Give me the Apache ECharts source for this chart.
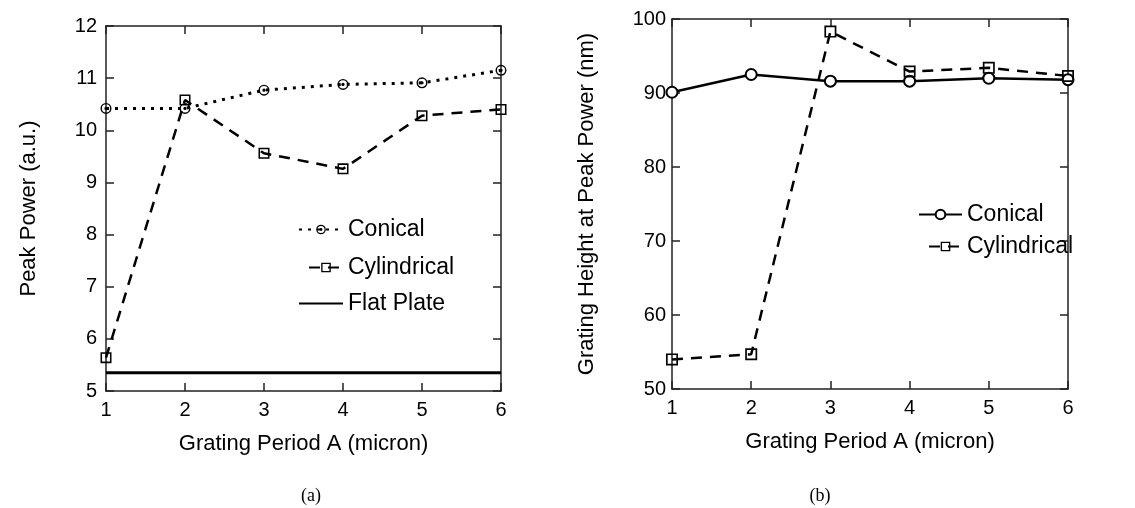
<!DOCTYPE html>
<html>
<head>
<meta charset="utf-8">
<script src="https://cdn.jsdelivr.net/npm/echarts@6/dist/echarts.min.js"></script>
<style>
  html, body { margin: 0; padding: 0; background: #fff; }
  #chart { width: 1135px; height: 508px; }
</style>
</head>
<body>
<div id="chart"></div>
<script>
// grating period (x), shared by both panels
const periods = [1, 2, 3, 4, 5, 6];
const xTicks = ['1', '2', '3', '4', '5', '6'];

// (a) peak power
const conicalPower = [10.42, 10.42, 10.77, 10.88, 10.91, 11.15];
const cylindricalPower = [5.64, 10.58, 9.56, 9.26, 10.28, 10.40];
const flatPlatePower = [5.35, 5.35, 5.35, 5.35, 5.35, 5.35];

// (b) grating height at peak power
const conicalHeight = [90.1, 92.5, 91.6, 91.6, 92.0, 91.8];
const cylindricalHeight = [54.0, 54.7, 98.3, 92.9, 93.4, 92.3];

const FONT = 'Liberation Sans';
const pairs = ys => periods.map((x, i) => [x, ys[i]]);

// hollow square (line shows through), ring + dot
const squareSym = 'path://M0,0H10V10H0Z M1.4,1.4V8.6H8.6V1.4Z';
const targetSym = 'path://M0,5A5,5 0 1,0 10,5A5,5 0 1,0 0,5Z M1.3,5A3.7,3.7 0 1,1 8.7,5A3.7,3.7 0 1,1 1.3,5Z M3.5,5A1.5,1.5 0 1,0 6.5,5A1.5,1.5 0 1,0 3.5,5Z';

function xAxisFor(grid) {
  return [
    {
      type: 'value', gridIndex: grid, min: 1, max: 6, interval: 1,
      name: 'Grating Period A (micron)', nameLocation: 'middle', nameGap: 42,
      nameTextStyle: { fontFamily: FONT, fontSize: 22, color: '#000' },
      axisLine: { lineStyle: { color: '#222', width: 1.5 } },
      axisTick: { inside: true, length: 8, lineStyle: { color: '#222', width: 1.5 } },
      axisLabel: { fontFamily: FONT, fontSize: 20, color: '#000', margin: 9,
        formatter: v => xTicks[periods.indexOf(v)] },
      splitLine: { show: false }
    },
    {
      type: 'value', gridIndex: grid, position: 'top', min: 1, max: 6, interval: 1,
      axisLine: { lineStyle: { color: '#222', width: 1.5 } },
      axisTick: { inside: true, length: 8, lineStyle: { color: '#222', width: 1.5 } },
      axisLabel: { show: false },
      splitLine: { show: false }
    }
  ];
}

function yAxisFor(grid, min, max, interval, name, gap, margin) {
  return [
    {
      type: 'value', gridIndex: grid, min: min, max: max, interval: interval,
      name: name, nameLocation: 'middle', nameGap: gap,
      nameTextStyle: { fontFamily: FONT, fontSize: 22, color: '#000' },
      axisLine: { show: true, lineStyle: { color: '#222', width: 1.5 } },
      axisTick: { show: true, inside: true, length: 8, lineStyle: { color: '#222', width: 1.5 } },
      axisLabel: { fontFamily: FONT, fontSize: 20, color: '#000', margin: margin },
      splitLine: { show: false }
    },
    {
      type: 'value', gridIndex: grid, position: 'right', min: min, max: max, interval: interval,
      axisLine: { show: true, lineStyle: { color: '#222', width: 1.5 } },
      axisTick: { show: true, inside: true, length: 8, lineStyle: { color: '#222', width: 1.5 } },
      axisLabel: { show: false },
      splitLine: { show: false }
    }
  ];
}

function legendAt(name, left, top, width, noSymbol) {
  const lg = {
    data: [name], left: left, top: top, orient: 'horizontal',
    itemWidth: width, itemHeight: 12, itemGap: 0, padding: 0,
    selectedMode: false,
    textStyle: { fontFamily: FONT, fontSize: 23, color: '#000' },
    formatter: n => n.replace(' (b)', '')
  };
  if (noSymbol) lg.itemStyle = { opacity: 0 };
  return lg;
}

const chart = echarts.init(document.getElementById('chart'), null, { renderer: 'canvas' });

chart.setOption({
  animation: false,
  backgroundColor: '#fff',
  grid: [
    { left: 106, top: 26, width: 395, height: 365 },
    { left: 672, top: 19, width: 396, height: 370 }
  ],
  title: [
    { text: '(a)', left: 306, top: 482, textAlign: 'center',
      textStyle: { fontFamily: 'Liberation Serif', fontSize: 18, fontWeight: 'normal', color: '#000' } },
    { text: '(b)', left: 815, top: 482, textAlign: 'center',
      textStyle: { fontFamily: 'Liberation Serif', fontSize: 18, fontWeight: 'normal', color: '#000' } }
  ],
  legend: [
    legendAt('Conical', 298, 218, 44),
    legendAt('Cylindrical', 308, 256, 34),
    legendAt('Flat Plate', 298, 292, 44, true),
    legendAt('Conical (b)', 918, 203, 43),
    legendAt('Cylindrical (b)', 928, 235, 33)
  ],
  xAxis: [...xAxisFor(0), ...xAxisFor(1)],
  yAxis: [
    ...yAxisFor(0, 5, 12, 1, 'Peak Power (a.u.)', 66, 9),
    ...yAxisFor(1, 50, 100, 10, 'Grating Height at Peak Power (nm)', 74, 6)
  ],
  series: [
    {
      name: 'Conical', type: 'line', xAxisIndex: 0, yAxisIndex: 0,
      data: pairs(conicalPower), symbol: targetSym, symbolSize: 11,
      itemStyle: { color: '#000' },
      lineStyle: { color: '#000', width: 3, type: [3, 6] }
    },
    {
      name: 'Cylindrical', type: 'line', xAxisIndex: 0, yAxisIndex: 0,
      data: pairs(cylindricalPower), symbol: squareSym, symbolSize: 11,
      itemStyle: { color: '#000' },
      lineStyle: { color: '#000', width: 2.5, type: [11, 8] }
    },
    {
      name: 'Flat Plate', type: 'line', xAxisIndex: 0, yAxisIndex: 0,
      data: pairs(flatPlatePower), symbol: 'none',
      itemStyle: { color: '#000' },
      lineStyle: { color: '#000', width: 3 }
    },
    {
      name: 'Conical (b)', type: 'line', xAxisIndex: 2, yAxisIndex: 2,
      data: pairs(conicalHeight), symbol: 'emptyCircle', symbolSize: 11,
      itemStyle: { color: '#000', borderWidth: 1.3 },
      lineStyle: { color: '#000', width: 2.5 }
    },
    {
      name: 'Cylindrical (b)', type: 'line', xAxisIndex: 2, yAxisIndex: 2,
      data: pairs(cylindricalHeight), symbol: squareSym, symbolSize: 12,
      itemStyle: { color: '#000' },
      lineStyle: { color: '#000', width: 2.5, type: [11, 8] }
    }
  ]
});
</script>
</body>
</html>
